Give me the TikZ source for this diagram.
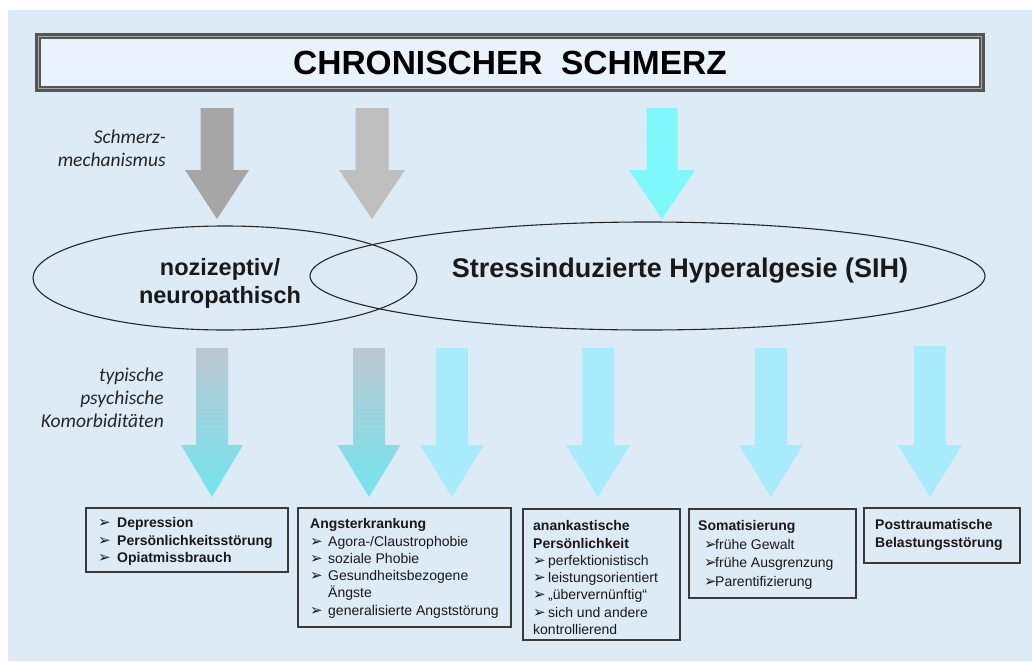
\documentclass[tikz,border=0pt]{standalone}
\usepackage{fontspec}
\setmainfont{Liberation Sans}
\newfontfamily\bulletfont{DejaVu Sans}
\newfontfamily\labelfont{Carlito}
\usetikzlibrary{shapes.geometric}
\definecolor{bg}{HTML}{DDEBF7}
\definecolor{titlefill}{HTML}{EAF2FB}
\definecolor{titlegray}{HTML}{555555}
\definecolor{gray1}{HTML}{A6A6A6}
\definecolor{gray2}{HTML}{BFBFBF}
\definecolor{cyan1}{HTML}{7FF8FB}
\definecolor{cyan2}{HTML}{A8EBFA}
\definecolor{gtop}{HTML}{BDC7D2}
\definecolor{gbot}{HTML}{72E5EE}
\definecolor{boxline}{HTML}{3A3A3A}
\newcommand\blockarrow[7]{%
  \path[#1] (#2-#3,#5) -- (#2+#3,#5) -- (#2+#3,#6) -- (#2+#4,#6) -- (#2,#7)
    -- (#2-#4,#6) -- (#2-#3,#6) -- cycle;}
\newcommand\bl[1]{\makebox[#1][l]{\bulletfont\fontsize{15}{15}\selectfont ➢}}
\newcommand\fr{\rule{0pt}{11pt}}
\begin{document}
\begin{tikzpicture}[x=1pt,y=-1pt,
  titlebox/.style={draw=titlegray, line width=6pt, fill=titlefill, inner sep=0pt},
  ell/.style={ellipse, draw=black!85, line width=1.1pt, inner sep=0pt},
  box/.style={draw=boxline, line width=1.6pt, inner sep=0pt, anchor=north west},
  txt/.style={align=left, inner sep=0pt, anchor=north west, text=black!90},
  lab/.style={align=right, inner sep=0pt, anchor=east, text=black!85,
    font=\labelfont\itshape\fontsize{19.5}{23}\selectfont},
  big/.style={align=center, inner sep=0pt, text=black!90,
    font=\bfseries\fontsize{23.5}{28}\selectfont}]
\useasboundingbox (0,0) rectangle (1032,661);
\fill[bg] (8,10) rectangle (1032,661);

% title
\node[titlebox, minimum width=944pt, minimum height=53pt,
  font=\bfseries\fontsize{33.5}{40}\selectfont] (title) at (510,62.5) {CHRONISCHER\ \ SCHMERZ};
\draw[black!35, line width=0.8pt] ([xshift=3.6pt,yshift=-3.6pt]title.north west)
  rectangle ([xshift=-3.6pt,yshift=3.6pt]title.south east);

% upper arrows
\blockarrow{fill=gray1}{217}{16.5}{32}{108}{170}{219}
\blockarrow{fill=gray2}{372}{16.5}{33}{108}{170}{219}
\blockarrow{fill=cyan1}{662}{15.5}{33}{108}{170}{219}

% labels
\node[lab] (lab1) at (166,148.5) {Schmerz-\\mechanismus};
\node[lab] (lab2) at (164,398) {typische\\psychische\\Komorbiditäten};

% ellipses
\node[ell, minimum width=384pt, minimum height=104pt] (e1) at (225,278) {};
\node[ell, minimum width=675pt, minimum height=108pt] (e2) at (647.5,276) {};
\node[big] (t1) at (220,283) {nozizeptiv/\\neuropathisch};
\node[big, font=\bfseries\fontsize{27}{32}\selectfont] (t2) at (680,270.5) {Stressinduzierte Hyperalgesie (SIH)};

% lower arrows
\blockarrow{top color=gtop, bottom color=gbot}{212}{16}{31}{348}{445}{497}
\blockarrow{top color=gtop, bottom color=gbot}{369}{16}{31.5}{348}{445}{497}
\blockarrow{fill=cyan2}{452}{16}{32}{348}{445}{497}
\blockarrow{fill=cyan2}{598}{16}{32}{348}{445}{497}
\blockarrow{fill=cyan2}{771}{16}{32}{348}{445}{497}
\blockarrow{fill=cyan2}{930}{16}{32}{346}{445}{497}

% boxes
\node[box, minimum width=202pt, minimum height=64pt] (b1) at (85,507) {};
\node[box, minimum width=213pt, minimum height=119pt] (b2) at (297,507) {};
\node[box, minimum width=157pt, minimum height=131pt] (b3) at (522,508) {};
\node[box, minimum width=167pt, minimum height=89pt] (b4) at (688,508) {};
\node[box, minimum width=156pt, minimum height=55pt] (b5) at (863,507) {};

\node[txt, font=\bfseries\fontsize{14}{17.3}\selectfont] (x1) at (98,516.5)
  {\fr\bl{19pt}Depression\\\bl{19pt}Persönlichkeitsstörung\\\bl{19pt}Opiatmissbrauch};
\node[txt, font=\fontsize{14}{17.3}\selectfont] (x2) at (310,517.5)
  {\fr\textbf{Angsterkrankung}\\\bl{18pt}Agora-/Claustrophobie\\\bl{18pt}soziale Phobie\\
   \bl{18pt}Gesundheitsbezogene\\\hspace*{18pt}Ängste\\\bl{18pt}generalisierte Angststörung};
\node[txt, font=\fontsize{14}{17.3}\selectfont] (x3) at (533,519.5)
  {\fr\textbf{anankastische}\\\textbf{Persönlichkeit}\\\bl{15pt}perfektionistisch\\
   \bl{15pt}leistungsorientiert\\\bl{15pt}„übervernünftig“\\\bl{15pt}sich und andere\\kontrollierend};
\node[txt, font=\fontsize{14}{18.5}\selectfont] (x4) at (698,519.5)
  {\fr\textbf{Somatisierung}\\\hspace*{6pt}\bl{11pt}frühe Gewalt\\
   \hspace*{6pt}\bl{11pt}frühe Ausgrenzung\\\hspace*{6pt}\bl{11pt}Parentifizierung};
\node[txt, font=\bfseries\fontsize{14}{18}\selectfont] (x5) at (875,518.5)
  {\fr Posttraumatische\\Belastungsstörung};
\end{tikzpicture}
\end{document}
